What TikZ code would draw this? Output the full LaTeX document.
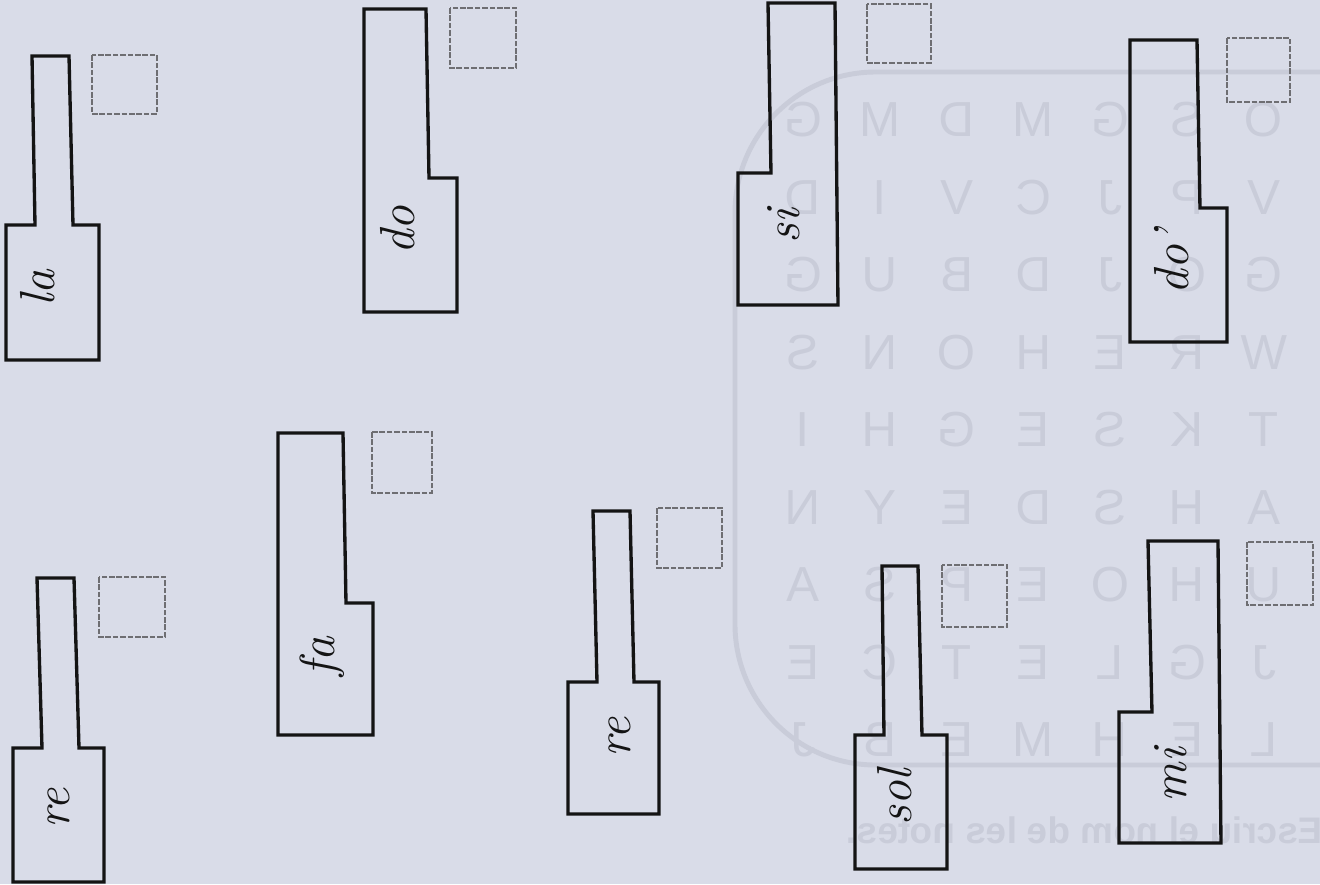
\documentclass[tikz,border=0pt]{standalone}
\usepackage{fontspec}
\newfontfamily\ghostfont{Liberation Sans}
\definecolor{SheetPaper}{HTML}{D9DCE8}
\definecolor{SheetInk}{HTML}{141414}
\definecolor{SheetDash}{HTML}{6E6E72}
\definecolor{SheetGhost}{HTML}{C9CCD9}
\newcommand{\backwards}[1]{\scalebox{-1}[1]{#1}}
\begin{document}
\begin{tikzpicture}[x=0.01cm,y=-0.01cm,
    keyline/.style={draw=SheetInk,line width=0.95pt},
    tickbox/.style={draw=SheetDash,line width=0.6pt,dash pattern=on 1.6pt off 0.5pt},
    notename/.style={rotate=90,font=\fontsize{14}{16}\selectfont\itshape,text=SheetInk,inner sep=0pt},
    ghost/.style={text=SheetGhost,font=\ghostfont\fontsize{14}{16}\selectfont,inner sep=0pt}]
  \useasboundingbox (0,0) rectangle (1320,884);
  \clip (0,0) rectangle (1320,884);
  \fill[SheetPaper] (0,0) rectangle (1320,884);
  % show-through of the back page
  \draw[SheetGhost,line width=1.4pt,rounded corners=40] (1340,72) -- (735,72) -- (735,765) -- (1340,765);
  \foreach \row [count=\r] in {{G,M,D,M,G,S,O},{D,I,V,C,J,P,V},{G,U,B,D,J,O,G},{S,N,O,H,E,R,W},{I,H,G,E,S,K,T},{N,Y,E,D,S,H,A},{A,S,P,E,O,H,U},{E,C,T,E,L,G,J},{J,B,E,M,H,E,L}}
    \foreach \ch [count=\c] in \row
      \node[ghost] (g-\r-\c) at ({803+76.8*(\c-1)},{120+77.5*(\r-1)}) {\backwards{\ch}};
  \node[ghost,font=\ghostfont\bfseries\fontsize{10.5}{12}\selectfont,anchor=west] (sentence) at (846,830) {\backwards{Escriu el nom de les notes.}};
  % keys
  \draw[keyline] (32,56) -- (69,56) -- (73,225) -- (99,225) -- (99,360) -- (6,360) -- (6,225) -- (35,225) -- cycle;
  \draw[keyline] (364,9) -- (426,9) -- (429,178) -- (457,178) -- (457,312) -- (364,312) -- cycle;
  \draw[keyline] (768,3) -- (835,3) -- (838,305) -- (738,305) -- (738,173) -- (771,173) -- cycle;
  \draw[keyline] (1130,40) -- (1197,40) -- (1200,208) -- (1227,208) -- (1227,342) -- (1130,342) -- cycle;
  \draw[keyline] (37,578) -- (74,578) -- (79,748) -- (104,748) -- (104,882) -- (13,882) -- (13,748) -- (42,748) -- cycle;
  \draw[keyline] (278,433) -- (343,433) -- (346,603) -- (373,603) -- (373,735) -- (278,735) -- cycle;
  \draw[keyline] (593,511) -- (630,511) -- (634,682) -- (659,682) -- (659,814) -- (568,814) -- (568,682) -- (597,682) -- cycle;
  \draw[keyline] (882,566) -- (918,566) -- (922,735) -- (947,735) -- (947,869) -- (855,869) -- (855,735) -- (884,735) -- cycle;
  \draw[keyline] (1148,541) -- (1218,541) -- (1221,843) -- (1119,843) -- (1119,712) -- (1152,712) -- cycle;
  % boxes to tick
  \draw[tickbox] (92,55) rectangle (157,114);
  \draw[tickbox] (450,8) rectangle (516,68);
  \draw[tickbox] (867,4) rectangle (931,63);
  \draw[tickbox] (1227,38) rectangle (1290,102);
  \draw[tickbox] (99,577) rectangle (165,637);
  \draw[tickbox] (372,432) rectangle (432,493);
  \draw[tickbox] (657,508) rectangle (722,568);
  \draw[tickbox] (942,565) rectangle (1007,627);
  \draw[tickbox] (1247,542) rectangle (1313,605);
  % note names
  \node[notename] (n-la) at (38,288) {la};
  \node[notename] (n-do) at (398,230) {do};
  \node[notename] (n-si) at (784,226) {si};
  \node[notename] (n-dohigh) at (1172,262) {do’};
  \node[notename] (n-re1) at (59,808) {re};
  \node[notename] (n-fa) at (322,657) {fa};
  \node[notename] (n-re2) at (620,737) {re};
  \node[notename] (n-sol) at (895,797) {sol};
  \node[notename] (n-mi) at (1171,775) {mi};
\end{tikzpicture}
\end{document}
